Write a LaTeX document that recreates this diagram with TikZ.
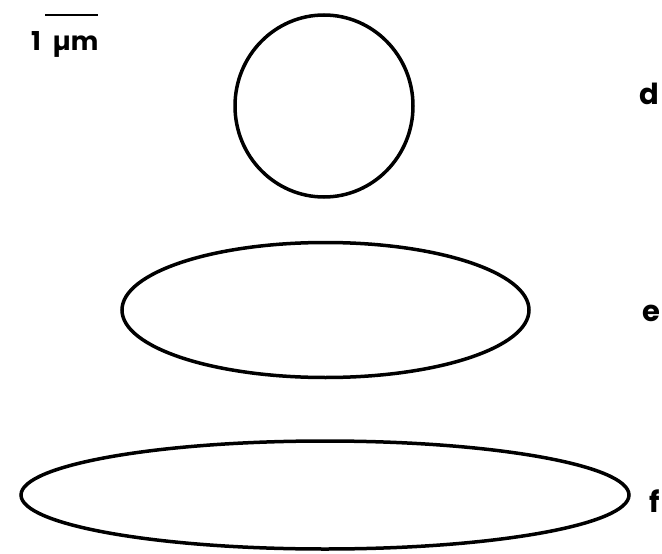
\documentclass[tikz,border=0pt]{standalone}
\usepackage{fontspec}
\setmainfont{Poppins}
\usepackage{tikz}
\usetikzlibrary{positioning}

\begin{document}
\begin{tikzpicture}[x=1pt,y=-1pt,
  outline/.style={draw,line width=3.5pt},
  lab/.style={font=\fontsize{29}{31}\selectfont\bfseries,inner sep=0pt}]
 \useasboundingbox (0,0) rectangle (662,554);
 % scale bar
 \coordinate (bar1) at (45,15);
 \coordinate (bar2) at (98,15);
 \draw[line width=2.7pt] (bar1) -- (bar2);
 \node[lab,font=\fontsize{26}{28}\selectfont\bfseries,anchor=base west] (unit) at (31,50) {1\hspace{0.45em}µm};
 % cross sections
 \draw[outline] (324,106) ellipse [x radius=89, y radius=91];
 \draw[outline] (325.5,310) ellipse [x radius=203.5, y radius=67.5];
 \draw[outline] (325,495) ellipse [x radius=304, y radius=54];
 \foreach \n/\x/\y in {d/649/94, e/651/313, f/655/501}
   \node[lab] (lab\n) at (\x,\y) {\n};
\end{tikzpicture}
\end{document}
